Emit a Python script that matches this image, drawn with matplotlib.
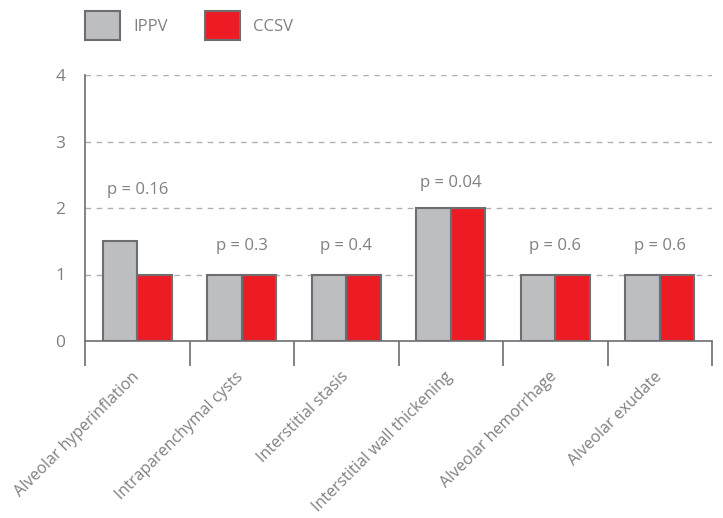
import matplotlib
matplotlib.use("Agg")
import matplotlib.pyplot as plt
import matplotlib.transforms as mtransforms
from matplotlib.patches import Patch
import numpy as np

categories = ["Alveolar hyperinflation", "Intraparenchymal cysts", "Interstitial stasis",
              "Interstitial wall thickening", "Alveolar hemorrhage", "Alveolar exudate"]
ippv = [1.5, 1, 1, 2, 1, 1]
ccsv = [1, 1, 1, 2, 1, 1]
p_labels = ["p = 0.16", "p = 0.3", "p = 0.4", "p = 0.04", "p = 0.6", "p = 0.6"]
p_label_y = [2.27, 1.43, 1.43, 2.37, 1.43, 1.43]
yticks = [0, 1, 2, 3, 4]

plt.rcParams['font.family'] = ['Open Sans', 'DejaVu Sans']
TXT = '#808080'
GRAY = '#bcbec0'
RED = '#ed1c24'
EDGE = '#6d6e71'
W = 'normal'

fig = plt.figure(figsize=(7.23, 5.18), dpi=100)
ax = fig.add_axes([85/723, 1-341/518, 627/723, 266/518])

x = np.arange(len(categories))
w = 0.33
ax.bar(x - w/2, ippv, w, color=GRAY, edgecolor=EDGE, linewidth=1.5, zorder=3, label='IPPV')
ax.bar(x + w/2, ccsv, w, color=RED, edgecolor=EDGE, linewidth=1.5, zorder=3, label='CCSV')

for xi, lab, yy in zip(x, p_labels, p_label_y):
    ax.text(xi, yy, lab, ha='center', va='center', fontsize=12, color=TXT, fontweight=W)

ax.set_xlim(-0.5, len(categories) - 0.5)
ax.set_ylim(0, 4)
ax.set_yticks(yticks)
ax.set_yticklabels([str(t) for t in yticks], fontsize=12.5, color=TXT, fontweight=W)
ax.tick_params(axis='y', length=0, pad=14)
for t in yticks[1:]:
    ax.axhline(t, color='#b0b0b0', linestyle=(0, (4, 4)), linewidth=1, zorder=1)

ax.set_xticks(x)
ax.set_xticklabels(categories, rotation=45, ha='right', va='top', rotation_mode='anchor',
                   fontsize=11.5, color=TXT, fontweight=W)
ax.tick_params(axis='x', which='major', length=0, pad=20)
offset = mtransforms.ScaledTranslation(-6/100, 0, fig.dpi_scale_trans)
for lbl in ax.get_xticklabels():
    lbl.set_transform(lbl.get_transform() + offset)
ax.set_xticks(np.arange(-0.5, len(categories)), minor=True)
ax.tick_params(axis='x', which='minor', length=18, width=1.2, color=EDGE, direction='out')

for s in ['top', 'right']:
    ax.spines[s].set_visible(False)
ax.spines['left'].set_color(EDGE)
ax.spines['left'].set_linewidth(1.2)
ax.spines['bottom'].set_color(EDGE)
ax.spines['bottom'].set_linewidth(1.2)

handles = [Patch(facecolor=GRAY, edgecolor=EDGE, linewidth=1.5, label='IPPV'),
           Patch(facecolor=RED, edgecolor=EDGE, linewidth=1.5, label='CCSV')]
leg = fig.legend(handles=handles, loc='upper left', bbox_to_anchor=(70/723, 1 + 4/518), ncol=2,
                 frameon=False, fontsize=12, handlelength=2.1, handleheight=2.3,
                 handletextpad=0.8, columnspacing=2.2)
for t in leg.get_texts():
    t.set_color(TXT)
    t.set_fontweight(W)

fig.savefig('out.png', dpi=100)
